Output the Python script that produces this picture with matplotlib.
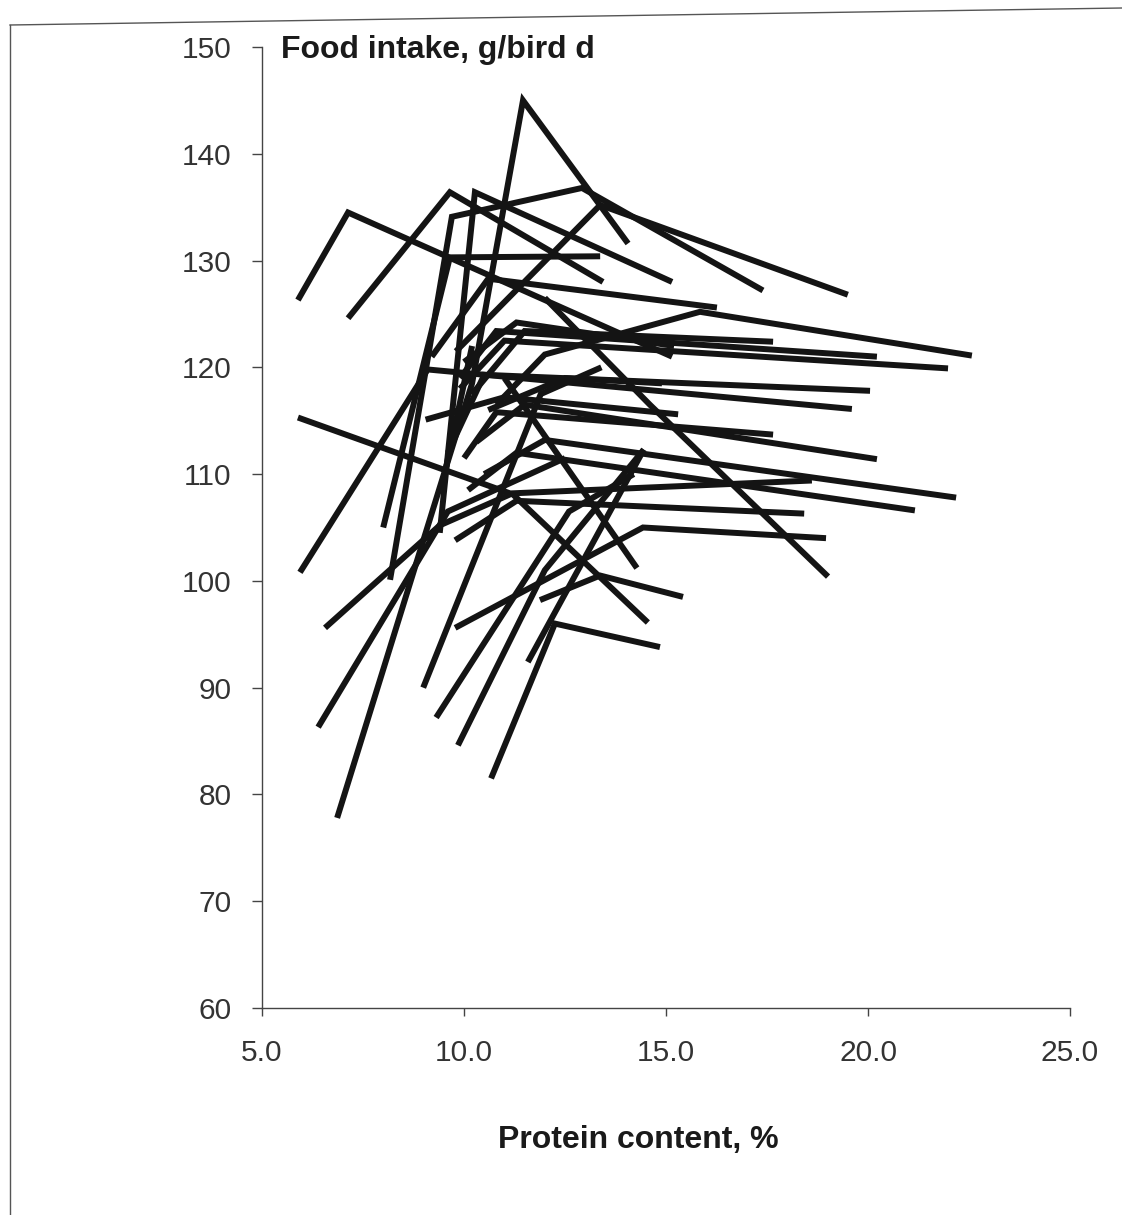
import matplotlib.pyplot as plt
from matplotlib.lines import Line2D

# protein content (%) and food intake (g/bird d), one list per trial
protein = [
    [5.89, 7.13, 15.15],
    [7.13, 9.65, 13.44],
    [8.17, 9.70, 12.92, 17.40],
    [9.40, 10.27, 15.15],
    [6.86, 10.20, 11.46, 14.06],
    [9.80, 13.37, 19.50],
    [8.00, 9.65, 13.37],
    [9.20, 10.60, 16.26],
    [10.80, 12.00, 15.84, 22.57],
    [10.20, 11.50, 17.65],
    [9.90, 10.80, 20.22],
    [9.90, 11.00, 21.98],
    [9.60, 10.50, 20.05],
    [5.94, 9.10, 19.60],
    [9.05, 11.00, 15.30],
    [10.00, 10.80, 17.65],
    [10.30, 11.50, 20.22],
    [10.50, 12.00, 22.18],
    [10.10, 11.30, 21.16],
    [6.56, 9.40, 11.20, 18.61],
    [9.78, 11.30, 18.42],
    [9.78, 14.43, 18.96],
    [12.00, 14.60, 19.01],
    [11.88, 13.37, 15.42],
    [5.89, 11.21, 14.55],
    [10.67, 12.25, 14.85],
    [11.00, 14.28],
    [6.39, 9.60, 12.50],
    [8.99, 11.90, 13.40],
    [9.31, 12.60, 14.20],
    [9.85, 12.00, 14.45],
    [11.58, 14.45],
    [9.48, 10.20],
    [10.00, 11.30, 15.20],
    [10.60, 12.50, 14.90],
]
intake = [
    [126.3, 134.5, 121.0],
    [124.6, 136.4, 128.0],
    [100.1, 134.1, 136.8, 127.2],
    [104.5, 136.4, 128.0],
    [77.8, 118.5, 145.0, 131.6],
    [121.5, 135.2, 126.8],
    [105.0, 130.3, 130.4],
    [121.0, 128.3, 125.6],
    [116.5, 121.2, 125.2, 121.1],
    [117.5, 123.4, 122.4],
    [119.0, 123.4, 121.0],
    [118.0, 122.5, 119.9],
    [112.0, 119.3, 117.8],
    [100.8, 119.8, 116.1],
    [115.1, 117.2, 115.6],
    [111.5, 115.8, 113.7],
    [113.0, 116.5, 111.4],
    [110.0, 113.2, 107.8],
    [108.5, 112.0, 106.6],
    [95.6, 105.2, 108.2, 109.4],
    [103.8, 107.5, 106.3],
    [95.6, 105.0, 104.0],
    [126.5, 116.5, 100.4],
    [98.2, 100.5, 98.5],
    [115.3, 108.1, 96.1],
    [81.5, 96.0, 93.8],
    [119.0, 101.2],
    [86.3, 106.5, 111.5],
    [90.0, 117.5, 120.0],
    [87.2, 106.5, 110.0],
    [84.6, 101.0, 112.3],
    [92.4, 112.3],
    [109.3, 122.0],
    [120.5, 124.2, 122.0],
    [116.0, 119.0, 118.5],
]

x_ticks = [5, 10, 15, 20, 25]
y_ticks = [60, 70, 80, 90, 100, 110, 120, 130, 140, 150]

plt.rcParams['font.family'] = ['Liberation Sans', 'DejaVu Sans']

fig = plt.figure(figsize=(11.22, 12.15), dpi=100)
ax = fig.add_axes([0.2335, 0.1704, 0.7202, 0.7909])

for xs, ys in zip(protein, intake):
    ax.plot(xs, ys, color='#141414', lw=4.3, solid_joinstyle='miter',
            solid_capstyle='butt')

ax.set_xlim(5, 25)
ax.set_ylim(60, 150)
ax.set_xticks(x_ticks)
ax.set_xticklabels([f'{v:.1f}' for v in x_ticks])
ax.set_yticks(y_ticks)
for s in ['top', 'right']:
    ax.spines[s].set_visible(False)
for s in ['left', 'bottom']:
    ax.spines[s].set_linewidth(1.0)
    ax.spines[s].set_color('#444444')
ax.tick_params(axis='y', direction='out', length=7, width=1, color='#444444',
               labelsize=21.5, labelcolor='#333333', pad=15)
ax.tick_params(axis='x', direction='out', length=6, width=1, color='#444444',
               labelsize=21.5, labelcolor='#333333', pad=16)

fig.text(281 / 1122, 1 - 50 / 1215, 'Food intake, g/bird d', fontsize=23,
         fontweight='bold', va='center', ha='left', color='#1a1a1a')
fig.text(638 / 1122, 1 - 1140 / 1215, 'Protein content, %', fontsize=23,
         fontweight='bold', va='center', ha='center', color='#1a1a1a')

# scan border of the page
fig.add_artist(Line2D([10 / 1122, 10 / 1122], [0, 1 - 25 / 1215],
                      transform=fig.transFigure, color='#555555', lw=1))
fig.add_artist(Line2D([10 / 1122, 1], [1 - 25 / 1215, 1 - 8 / 1215],
                      transform=fig.transFigure, color='#555555', lw=1))

fig.savefig('out.png', dpi=100, facecolor='white')
